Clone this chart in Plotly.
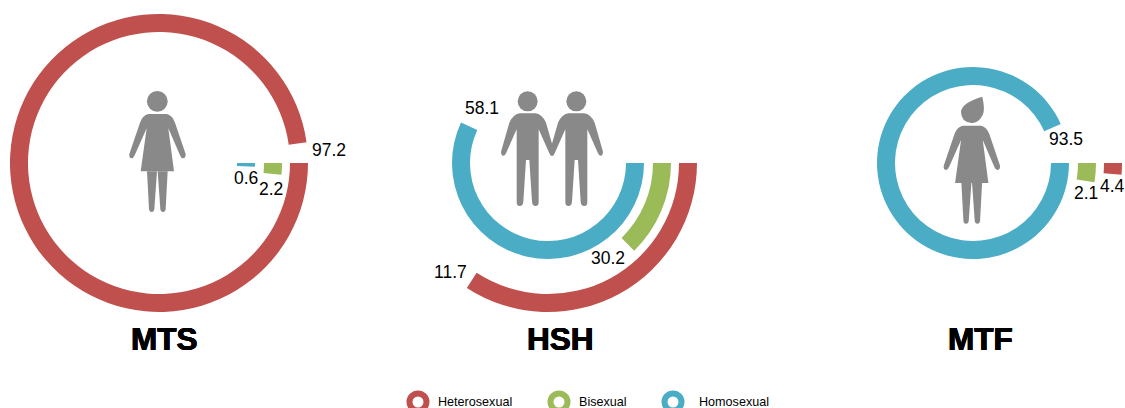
import plotly.graph_objects as go

# ---- data ----
categories = ["Homosexual", "Bisexual", "Heterosexual"]
chart_names = ["MTS", "HSH", "MTF"]
# angular length of each drawn arc, in degrees (Homosexual, Bisexual, Heterosexual)
mts_arcs = [2.2, 5.5, 352.0]
hsh_arcs = [205.0, 45.5, 123.0]
mtf_arcs = [336.0, 9.0, 4.5]
# printed value labels
mts_labels = ["0.6", "2.2", "97.2"]
hsh_labels = ["58.1", "30.2", "11.7"]
mtf_labels = ["93.5", "2.1", "4.4"]

# ---- style / layout ----
W, H = 1125, 408
COLORS = {"Homosexual": "#4BACC6", "Bisexual": "#9BBB59", "Heterosexual": "#C0504D"}
GRAY = "#898989"
FONT = "Liberation Sans"
CENTERS = [(159, 163), (548, 163), (973, 163)]
R_MAX = 150
RING_BASE = {"Homosexual": 78, "Bisexual": 105, "Heterosexual": 131}
RING_W = 18
TITLE_POS = [(164.5, 339), (560, 339), (980, 339)]
LABEL_POS = [
    [(246, 178), (271, 189), (329, 150)],
    [(481.5, 108), (607.5, 258), (450, 272)],
    [(1065.5, 139), (1086, 193), (1112.5, 186)],
]
LEGEND_POS = [(418, 402), (559, 402), (673, 402)]
LEGEND_TEXT_X = [436, 577, 697]
LEGEND_ORDER = ["Heterosexual", "Bisexual", "Homosexual"]

fig = go.Figure()
layout_polar = {}
all_arcs = [mts_arcs, hsh_arcs, mtf_arcs]
for i, ((cx, cy), arcs) in enumerate(zip(CENTERS, all_arcs)):
    key = "polar" if i == 0 else f"polar{i + 1}"
    for cat, arc in zip(categories, arcs):
        fig.add_trace(go.Barpolar(
            r=[RING_W], base=[RING_BASE[cat]], theta=[arc / 2], width=[arc],
            marker=dict(color=COLORS[cat], line=dict(width=0)),
            name=cat, subplot=key, showlegend=False, hoverinfo="skip",
        ))
    layout_polar[key] = dict(
        domain=dict(x=[(cx - R_MAX) / W, (cx + R_MAX) / W],
                    y=[1 - (cy + R_MAX) / H, 1 - (cy - R_MAX) / H]),
        bgcolor="rgba(0,0,0,0)",
        radialaxis=dict(visible=False, range=[0, R_MAX]),
        angularaxis=dict(visible=False, direction="clockwise", rotation=0),
    )

# legend rings with text, on a hidden pixel axis
for (lx, ly), cat in zip(LEGEND_POS, LEGEND_ORDER):
    fig.add_trace(go.Scatter(
        x=[lx], y=[ly], mode="markers", cliponaxis=False, showlegend=False, hoverinfo="skip",
        marker=dict(symbol="circle", size=17, color="white", line=dict(color=COLORS[cat], width=6)),
    ))

annotations = []
def note(x, y, text, size, bold=False, anchor="center", shadow=None):
    font = dict(family=FONT, size=size, color="black", weight="bold" if bold else "normal")
    if shadow:
        font["shadow"] = shadow
    annotations.append(dict(x=x, y=y, xref="x", yref="y", text=text, showarrow=False,
                            xanchor=anchor, yanchor="middle", font=font))
HEAVY = "0.6px 0 0 black, -0.6px 0 0 black, 0 0.4px 0 black, 0 -0.4px 0 black"
for (tx, ty), name in zip(TITLE_POS, chart_names):
    note(tx, ty, name, 31.5, bold=True, shadow=HEAVY)
for pos, labels in zip(LABEL_POS, [mts_labels, hsh_labels, mtf_labels]):
    for (lx, ly), t in zip(pos, labels):
        note(lx, ly, t, 17.5)
for tx, (lx, ly), cat in zip(LEGEND_TEXT_X, LEGEND_POS, LEGEND_ORDER):
    note(tx, ly, cat, 12.6, anchor="left")

# ---- pictograms ----
def path(ops):
    return " ".join(ops) + " Z"

def woman_body(dx, dy):
    """zoom-space outline, moved by pixel offset"""
    p = lambda x, y: f"{x / 3 + dx:.2f},{y / 3 + dy:.2f}"
    dress = ["M" + p(445, 342), "L" + p(500, 342), "Q" + p(517, 345) + " " + p(525, 368),
             "L" + p(557, 462), "Q" + p(557, 475) + " " + p(549, 475), "Q" + p(543, 475) + " " + p(540, 466),
             "L" + p(505, 385), "L" + p(522, 514), "L" + p(422, 514), "L" + p(440, 385),
             "L" + p(404, 466), "Q" + p(400, 475) + " " + p(395, 475), "Q" + p(387, 475) + " " + p(388, 462),
             "L" + p(420, 368), "Q" + p(428, 345) + " " + p(445, 342)]
    leg1 = ["M" + p(441, 514), "L" + p(471, 514), "L" + p(463, 627), "Q" + p(462, 636) + " " + p(455, 636),
            "Q" + p(448, 636) + " " + p(447, 627)]
    leg2 = ["M" + p(473, 514), "L" + p(503, 514), "L" + p(497, 627), "Q" + p(496, 636) + " " + p(489, 636),
            "Q" + p(482, 636) + " " + p(481, 627)]
    return [path(dress), path(leg1), path(leg2)]

def man(cx_z, dx, dy):
    side = [(-23, 130), (-43, 132, -55, 158), (-80, 245), (-80, 257, -72, 257), (-68, 257, -65, 250),
            (-33, 178), (-33, 395), (-33, 408, -24, 408), (-14, 408, -13, 395), (-5, 270)]
    p = lambda x, y: f"{(cx_z + x) / 3 + dx:.2f},{y / 3 + dy:.2f}"
    ops = ["M" + p(*side[0])]
    for s in side[1:]:
        ops.append("L" + p(s[0], s[1]) if len(s) == 2 else "Q" + p(s[0], s[1]) + " " + p(s[2], s[3]))
    ops.append("L" + p(5, 270))
    mirrored = [(13, 395), (14, 408, 24, 408), (33, 408, 33, 395), (33, 178),
                (65, 250), (68, 257, 72, 257), (80, 257, 80, 245), (55, 158), (43, 132, 23, 130)]
    for s in mirrored:
        ops.append("L" + p(s[0], s[1]) if len(s) == 2 else "Q" + p(s[0], s[1]) + " " + p(s[2], s[3]))
    return path(ops)

paths = []
paths += woman_body(0, 0)
dx3, dy3 = 814.4, 11.7
paths += woman_body(dx3, dy3)
z3 = lambda x, y: f"{860 + x / 3:.2f},{60 + y / 3:.2f}"
paths.append(path(["M" + z3(367, 110), "Q" + z3(376, 150) + " " + z3(368, 165),
                   "Q" + z3(355, 190) + " " + z3(335, 189), "Q" + z3(303, 186) + " " + z3(303, 155),
                   "Q" + z3(305, 128) + " " + z3(367, 110)]))
paths.append(man(323, 420, 70))
paths.append(man(469, 420, 70))

shapes = [dict(type="path", xref="x", yref="y", path=d, fillcolor=GRAY, line=dict(width=0), layer="above")
          for d in paths]
for hx, hy, hr in [(157.3, 101.3, 10.4), (420 + 323 / 3, 70 + 94 / 3, 10), (420 + 469 / 3, 70 + 94 / 3, 10)]:
    shapes.append(dict(type="circle", xref="x", yref="y", x0=hx - hr, x1=hx + hr, y0=hy - hr, y1=hy + hr,
                       fillcolor=GRAY, line=dict(width=0), layer="above"))

fig.update_layout(
    width=W, height=H, margin=dict(l=0, r=0, t=0, b=0),
    paper_bgcolor="white", plot_bgcolor="white", showlegend=False,
    xaxis=dict(visible=False, range=[0, W], fixedrange=True, domain=[0, 1]),
    yaxis=dict(visible=False, range=[H, 0], fixedrange=True, domain=[0, 1]),
    annotations=annotations, shapes=shapes, **layout_polar,
)
fig.write_html("out.html", config=dict(displayModeBar=False),
               post_script="document.body.style.margin='0';document.documentElement.style.overflow='hidden';")
